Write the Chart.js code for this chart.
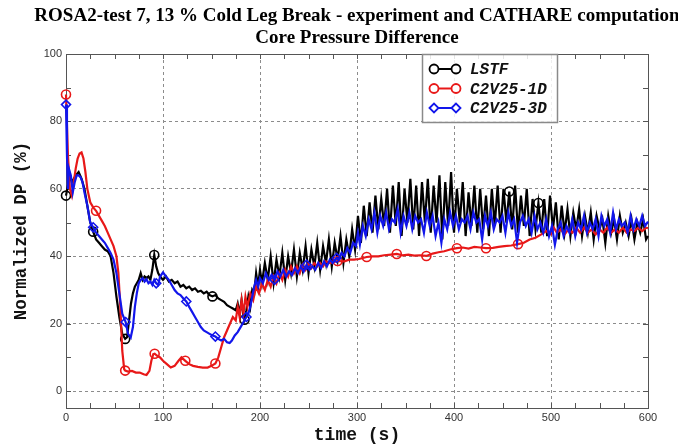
<!DOCTYPE html>
<html>
<head>
<meta charset="utf-8">
<script src="https://cdn.jsdelivr.net/npm/chart.js@4.4.1/dist/chart.umd.min.js"></script>
<style>
  html, body { margin: 0; padding: 0; background: #fff; }
</style>
</head>
<body>
<canvas id="dpChart" width="678" height="445"></canvas>
<script>
// [time (s), normalized DP (%)]
const lstf = [
  [0,58],[2,61],[4,64],[6,62],[8,63],[10,64],[13,65],[16,63],[19,60],[22,55],[25,50],[28,47.3],
  [31,45],[34,44],[37,43],[40,42],[43,41.5],[46,40],[49,35],[52,28],[55,22],[58,17],[61,15.5],
  [63,16],[65,21],[67,26],[69,29],[71,31],[73,32],[75,33],[77,35],[79,33],[81,34],[83,33.5],
  [85,34],[87,33],[89,36],[91,40.4],[93,37],[95,35],[97,34],[100,33],[103,34],[106,32.5],
  [109,33],[112,32],[115,32.5],[118,31],[121,31.5],[124,30.5],[127,31],[130,30],[133,30.5],
  [136,29.5],[139,29.8],[142,29],[145,29.5],[148,28.5],[151,28.1],[154,28.5],[157,27.5],
  [160,27],[163,26.5],[166,25.5],[169,25],[172,24.5],[175,24],[177,26],[179,23],[181,27],
  [183,22],[184,21.2],[186,24],[188,28],[190,25],[192,30],[194,29],[196,35],[198,31],[200,36],
  [202,32],[205,38],[208,33],[211,40],[214,32],[217,39],[220,34],[223,41],[226,33],[229,40],
  [232,35],[235,42],[238,34],[241,41],[244,36],[247,43],[250,35],[253,42],[256,37],[259,44],
  [262,36],[265,43],[268,38],[271,45],[274,37],[277,44],[280,39],[283,46],[286,38],[289,45],
  [292,40],[295,48],[298,42],[301,52],[304,44],[307,55],[310,46],[313,56],[316,47],[319,58],
  [322,48],[325,57],[328,49],[331,60],[334,47],[337,61],[340,49],[343,62],[346,46],[349,60],
  [352,50],[355,63],[358,48],[361,61],[364,46],[367,62],[370,50],[373,63],[376,47],[379,61],
  [382,50],[385,64],[388,45],[391,62],[394,49],[397,65],[400,47],[403,60],[406,50],[409,62],
  [412,46],[415,59],[418,49],[421,61],[424,47],[427,60],[430,48],[433,58],[436,46],[439,60],
  [442,49],[445,61],[448,47],[451,60],[454,50],[457,59.2],[460,48],[463,61],[466,47],[469,58],
  [472,49],[475,60],[478,46],[481,57],[484,48],[487,55.8],[490,47],[493,57],[496,46],[499,58],
  [502,48],[505,56],[508,45],[511,55],[514,47],[517,54],[520,46],[523,53],[526,48],[529,54],
  [532,46],[535,52],[538,47],[541,53],[544,45],[547,52],[550,48],[553,51],[556,44],[559,52],
  [562,47],[565,51],[568,45],[571,52],[574,47],[577,50],[580,46],[583,51],[586,45],[589,50],
  [592,47],[595,51],[598,45],[600,46]
];

const c2v25_1d = [
  [0,88],[2,70],[4,60],[6,58],[8,62],[10,66],[12,69],[14,70.5],[16,70.8],[18,69],[20,65],
  [22,60],[25,56],[28,54.5],[31,53.5],[34,52],[37,50.5],[40,49],[43,47],[46,45],[49,43],
  [52,40],[54,35],[56,25],[58,12],[60,6.5],[61,6.1],[64,5.8],[68,6],[72,5.5],[76,5.5],[80,5],
  [83,4.8],[86,6],[88,9],[90,11],[91.4,11.1],[94,10.5],[97,10],[100,9],[104,8],[108,7],
  [112,7.5],[116,9],[119,10],[123,9],[127,8],[131,7.5],[136,7.2],[141,7],[146,7],[150,7.5],
  [154,8.2],[157,10],[160,13],[163,16],[166,18],[169,20],[172,22],[175,21],[177,25],[179,22],
  [181,27],[183,23],[185,28],[187,25],[190,29],[193,27],[196,31],[199,29],[202,32],[205,30],
  [208,33],[211,31],[214,34],[217,32],[220,35],[223,33],[226,36],[229,34],[232,37],[235,35],
  [238,37],[241,35],[244,37.5],[247,36],[250,38],[253,36.5],[256,38],[259,37],[262,38],
  [265,37],[268,38.5],[272,38],[280,38.6],[287,38.5],[292,39],[297,39],[302,39.2],[306,39.5],
  [310,39.8],[316,40],[322,40],[328,40.3],[335,40.5],[341,40.7],[347,40.3],[353,40.5],
  [359,40.2],[365,40.3],[371.5,40.1],[378,40.8],[384,41.2],[390,41.5],[396,42],[403,42.4],
  [409,42.6],[415,42.3],[421,42.8],[427,42.6],[433,42.4],[440,42.5],[446,42.8],[452,43],
  [459,43.2],[466,43.6],[472,44],[478,45],[484,45.5],[490,46.5],[495,47.5],[500,46.5],
  [503,48.5],[506,47],[510,48],[514,46.5],[518,48],[522,47],[526,48.5],[530,47],[534,48.5],
  [538,47],[542,48],[546,46.5],[550,48],[554,47],[558,48.5],[562,47],[566,48],[570,47],
  [574,48.5],[578,47],[582,48],[586,47.5],[590,48.5],[594,47.5],[598,48.5],[600,48.3]
];

const c2v25_3d = [
  [0,85],[1,70],[2,60],[3,66],[5,64],[7,59],[9,62],[11,64],[13,64],[15,63.5],[17,62],[19,59],
  [22,55],[25,50],[28,48.6],[31,47],[34,46],[37,45],[40,44],[43,42.5],[46,41],[49,39],[52,35],
  [55,29],[58,23],[61.5,20.5],[64,17],[66.7,15.9],[69,19],[71,25],[73,29],[75,32],[77,33],
  [79,33.5],[81,32.5],[83,33.2],[85,32],[87,32.5],[89,31.5],[91,33],[93,32],[95,31.5],[97,34],
  [100,35.2],[103,34],[106,33],[109,31.5],[112,30],[115,29],[118,28.5],[121,27.5],[124,26.6],
  [127,25],[130,23.5],[133,22],[136,20.5],[139,19],[142,18],[145,17.5],[148,17],[151,16.5],
  [154,16.2],[157,15.5],[160,15],[163,15.5],[166,14.5],[168.7,14.3],[171,15],[174,16.5],
  [177,17.5],[180,19],[183,20.5],[186,22],[188,23],[190,25],[192,28],[194,31],[196,33],
  [198,31],[200,33.5],[203,32],[206,35],[209,33],[212,34.5],[215,33],[218,35.5],[221,34],
  [224,36],[227,34],[230,35.5],[233,34.5],[236,36.5],[239,35],[242,37],[245,35.5],[248,37.5],
  [251,36],[254,37],[257,36],[260,38],[263,36.5],[266,38.5],[269,37],[272,39],[275,38],
  [279,39.5],[281,39],[284,41],[287,40],[290,42.5],[293,41],[296,44],[299,43],[301,47],
  [303,43.5],[306,49],[309,46],[312,51],[315,48],[318,53],[321,47],[324,52],[327,49],[330,53],
  [333,48],[336,51],[339,50],[342,54],[345,47],[348,52],[351,49],[354,53],[357,48],[360,52],
  [363,50],[366,51],[369,47],[372,53],[375,49],[378,52],[381,46],[384,50],[387,44],[390,51],
  [393,48],[396,53],[399,49],[402,52],[405,48],[408,51],[411,50],[414,52],[417,48],[420,53],
  [423,50],[426,51],[429,45],[432,52],[435,49],[438,53],[441,48],[444,51],[447,50],[450,52],
  [453,47],[456,53],[459,49],[462,51],[465,44],[468,50],[471,52],[474,49],[477,51],[480,47],
  [483,52],[486,48],[489,50],[492,47],[495,51],[498,46],[501,49],[504,43.4],[507,48],[510,50],
  [513,46],[516,49],[519,47],[522,51],[525,46],[528,50],[531,48],[534,52],[537,47],[540,50],
  [543,48],[546,51],[549,46],[552,52],[555,49],[558,51],[561,47],[564,53],[567,48],[570,51],
  [573,49],[576,50],[579,47],[582,52],[585,48],[588,51],[591,49],[594,52],[597,49],[600,50.3]
];

// times where a symbol is drawn on each curve
const lstfMarks = [0, 28, 61, 91, 151, 184, 457, 487];
const c1dMarks = [0, 31, 61, 91.4, 123, 154, 280, 310, 341, 371.5, 403, 433, 466];
const c3dMarks = [0, 28, 61.5, 93, 124, 154, 186, 215, 248, 279];

const xLabelTicks = [0, 100, 200, 300, 400, 500, 600];
const yLabelTicks = [0, 20, 40, 60, 80, 100];
const xMinorTicks = [0, 25, 50, 75, 100, 125, 150, 175, 200, 225, 250, 275, 300, 325, 350,
  375, 400, 425, 450, 475, 500, 525, 550, 575, 600];
const yMinorTicks = [0, 10, 20, 30, 40, 50, 60, 70, 80, 90, 100];

const titleLines = ['ROSA2-test 7, 13 % Cold Leg Break - experiment and CATHARE computation', 'Core Pressure Difference'];

const toXY = arr => arr.map(([t, v]) => ({ x: t, y: v }));
const markerRadius = (marks, r) => ctx => (ctx.raw && marks.includes(ctx.raw.x)) ? r : 0;

const monoBold = '"Liberation Mono", "DejaVu Sans Mono", monospace';

// the original title runs off the right edge, so it is drawn unsqueezed over the plot centre
const plotTitle = {
  id: 'plotTitle',
  afterDraw(chart) {
    const { ctx, chartArea: a } = chart;
    const cx = (a.left + a.right) / 2;
    ctx.save();
    ctx.fillStyle = '#000';
    ctx.font = 'bold 19px "Liberation Serif", "Times New Roman", serif';
    ctx.textAlign = 'center';
    ctx.textBaseline = 'middle';
    ctx.fillText(titleLines[0], cx, a.top - 38);
    ctx.fillText(titleLines[1], cx, a.top - 16);
    ctx.restore();
  }
};

// frame + inward tick marks on all four sides
const frameTicks = {
  id: 'frameTicks',
  beforeDatasetsDraw(chart) {
    const { ctx, chartArea: a, scales: { x, y } } = chart;
    ctx.save();
    ctx.strokeStyle = '#555';
    ctx.lineWidth = 1;
    ctx.setLineDash([]);
    ctx.strokeRect(Math.round(a.left) + 0.5, Math.round(a.top) + 0.5,
      Math.round(a.right - a.left), Math.round(a.bottom - a.top));
    ctx.beginPath();
    xMinorTicks.forEach(v => {
      const px = Math.round(x.getPixelForValue(v)) + 0.5;
      ctx.moveTo(px, a.bottom); ctx.lineTo(px, a.bottom - 5);
      ctx.moveTo(px, a.top); ctx.lineTo(px, a.top + 5);
    });
    yMinorTicks.forEach(v => {
      const py = Math.round(y.getPixelForValue(v)) + 0.5;
      ctx.moveTo(a.left, py); ctx.lineTo(a.left + 5, py);
      ctx.moveTo(a.right, py); ctx.lineTo(a.right - 5, py);
    });
    ctx.stroke();
    ctx.restore();
  }
};

// boxed legend inside the plot, each entry drawn as symbol-line-symbol
const boxLegend = {
  id: 'boxLegend',
  afterDatasetsDraw(chart) {
    const { ctx, chartArea: a } = chart;
    const left = a.left + 356, top = a.top, w = 135, h = 68;
    ctx.save();
    ctx.setLineDash([]);
    ctx.fillStyle = 'rgba(255,255,255,0.85)';
    ctx.fillRect(left, top, w, h);
    ctx.strokeStyle = '#8a8a8a';
    ctx.lineWidth = 1.5;
    ctx.strokeRect(left + 0.5, top + 0.5, w, h);
    chart.data.datasets.forEach((ds, i) => {
      const yy = top + 15 + i * 19.5;
      const x1 = left + 12, x2 = left + 34;
      ctx.strokeStyle = ds.borderColor;
      ctx.lineWidth = 2;
      ctx.beginPath();
      ctx.moveTo(x1, yy); ctx.lineTo(x2, yy);
      ctx.stroke();
      const opts = { pointStyle: ds.pointStyle, radius: 4.5, rotation: 0, borderWidth: 1.8 };
      ctx.lineWidth = 1.8;
      ctx.fillStyle = '#fff';
      Chart.helpers.drawPoint(ctx, opts, x1, yy);
      Chart.helpers.drawPoint(ctx, opts, x2, yy);
      ctx.fillStyle = '#111';
      ctx.font = 'italic bold 16px ' + monoBold;
      ctx.textBaseline = 'middle';
      ctx.textAlign = 'left';
      ctx.fillText(ds.label, left + 48, yy + 1);
    });
    ctx.restore();
  }
};

const gridColor = (edges) => ctx => (ctx.tick && edges.includes(ctx.tick.value)) ? 'rgba(0,0,0,0)' : '#8c8c8c';

new Chart(document.getElementById('dpChart').getContext('2d'), {
  type: 'line',
  data: {
    datasets: [
      {
        label: 'LSTF',
        data: toXY(lstf),
        borderColor: '#000000',
        borderWidth: 2.2,
        pointStyle: 'circle',
        pointRadius: markerRadius(lstfMarks, 4.5),
        pointBorderColor: '#000000',
        pointBackgroundColor: 'rgba(0,0,0,0)',
        pointBorderWidth: 1.6,
        order: 3,
        clip: 8
      },
      {
        label: 'C2V25-1D',
        data: toXY(c2v25_1d),
        borderColor: 'rgb(232,24,24)',
        borderWidth: 2.2,
        pointStyle: 'circle',
        pointRadius: markerRadius(c1dMarks, 4.5),
        pointBorderColor: 'rgb(232,24,24)',
        pointBackgroundColor: 'rgba(0,0,0,0)',
        pointBorderWidth: 1.6,
        order: 2,
        clip: 8
      },
      {
        label: 'C2V25-3D',
        data: toXY(c2v25_3d),
        borderColor: 'rgb(18,22,235)',
        borderWidth: 2.2,
        pointStyle: 'rectRot',
        pointRadius: markerRadius(c3dMarks, 4.5),
        pointBorderColor: 'rgb(18,22,235)',
        pointBackgroundColor: 'rgba(0,0,0,0)',
        pointBorderWidth: 1.6,
        order: 1,
        clip: 8
      }
    ]
  },
  options: {
    responsive: false,
    animation: false,
    events: [],
    layout: { padding: { left: 0, right: 30, top: 54, bottom: 0 } },
    plugins: {
      legend: { display: false },
      tooltip: { enabled: false },
      title: { display: false }
    },
    scales: {
      x: {
        type: 'linear',
        min: 0,
        max: 600,
        afterBuildTicks: s => { s.ticks = xLabelTicks.map(v => ({ value: v })); },
        afterFit: s => { s.height = 37; },
        ticks: {
          color: '#333',
          padding: 3,
          font: { family: '"Liberation Sans", Arial, sans-serif', size: 11 }
        },
        grid: { color: gridColor([0, 600]), lineWidth: 1, drawTicks: false },
        border: { display: true, color: '#555', width: 1, dash: [3, 3] },
        title: {
          display: true,
          text: 'time (s)',
          color: '#111',
          font: { family: monoBold, size: 18, weight: 'bold' },
          padding: { top: 0, bottom: -1 }
        }
      },
      y: {
        type: 'linear',
        min: -5,
        max: 100,
        afterBuildTicks: s => { s.ticks = yLabelTicks.map(v => ({ value: v })); },
        afterFit: s => { s.width = 66; },
        ticks: {
          color: '#333',
          padding: 4,
          font: { family: '"Liberation Sans", Arial, sans-serif', size: 11 }
        },
        grid: { color: gridColor([100]), lineWidth: 1, drawTicks: false },
        border: { display: true, color: '#555', width: 1, dash: [3, 3] },
        title: {
          display: true,
          text: 'Normalized DP (%)',
          color: '#111',
          font: { family: monoBold, size: 17.5, weight: 'bold' },
          padding: { top: 11, bottom: 0 }
        }
      }
    },
    elements: { line: { tension: 0 } }
  },
  plugins: [plotTitle, frameTicks, boxLegend]
});
</script>
</body>
</html>
